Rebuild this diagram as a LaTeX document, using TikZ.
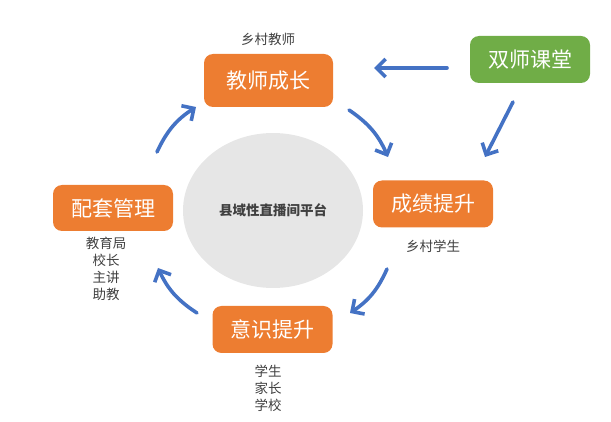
\documentclass[tikz,border=0pt]{standalone}
\usepackage{fontspec}
\setmainfont{Noto Sans CJK SC}
\usetikzlibrary{arrows.meta,shapes.geometric}
\definecolor{ed7d31}{HTML}{ED7D31}
\definecolor{70ad47}{HTML}{70AD47}
\definecolor{4472c4}{HTML}{4472C4}
\definecolor{e6e6e6}{HTML}{E6E6E6}
\definecolor{404040}{HTML}{404040}
\begin{document}
\begin{tikzpicture}[x=1pt,y=-1pt,>={Straight Barb[length=9pt,width=18pt]}]
    \tikzset{box/.style={fill=ed7d31,rounded corners=9pt,text=white,inner sep=0pt,
        font=\fontsize{21}{24}\selectfont,minimum width=120pt,minimum height=47pt},
        note/.style={text=404040,align=center,inner sep=0pt,font=\fontsize{13.5}{17}\selectfont},
        flow/.style={->,4472c4,line width=3.6pt,line cap=round}}
    \useasboundingbox(0,0)rectangle(611,422);
    \node[ellipse,fill=e6e6e6,minimum width=180pt,minimum height=155pt,text=404040,
        font=\bfseries\fontsize{13.5}{16}\selectfont](plat)at(273,210.5){县域性直播间平台};
    \node[box,minimum width=129pt,minimum height=53pt](grow)at(268.5,80.5){教师成长};
    \node[box](score)at(433,204){成绩提升};
    \node[box](aware)at(272.5,329.5){意识提升};
    \node[box,minimum height=46pt](manage)at(113,208){配套管理};
    \node[box,fill=70ad47](dual)at(530,59.5){双师课堂};
    \node[note](tgrow)at(268,39){乡村教师};
    \node[note](tscore)at(433,246){乡村学生};
    \node[note](taware)at(268,388.5){学生\\家长\\学校};
    \node[note](tmanage)at(106,269){教育局\\校长\\主讲\\助教};
    % arrow ends
    \coordinate(D1)at(447,68);
    \coordinate(G1)at(374,68);
    \coordinate(D2)at(513,102);
    \coordinate(S1)at(485,157);
    \coordinate(G2)at(349,110);
    \coordinate(S2)at(388,157);
    \coordinate(S3)at(387,269);
    \coordinate(A1)at(350,313);
    \coordinate(A2)at(197,313);
    \coordinate(M1)at(158,268);
    \coordinate(M2)at(157,152);
    \coordinate(G3)at(196,107);
    \draw[flow](D1)--(G1);
    \draw[flow](D2)--(S1);
    \draw[flow](G2)to[bend left=16](S2);
    \draw[flow](S3)to[bend left=16](A1);
    \draw[flow](A2)to[bend left=16](M1);
    \draw[flow](M2)to[bend left=16](G3);
\end{tikzpicture}
\end{document}
